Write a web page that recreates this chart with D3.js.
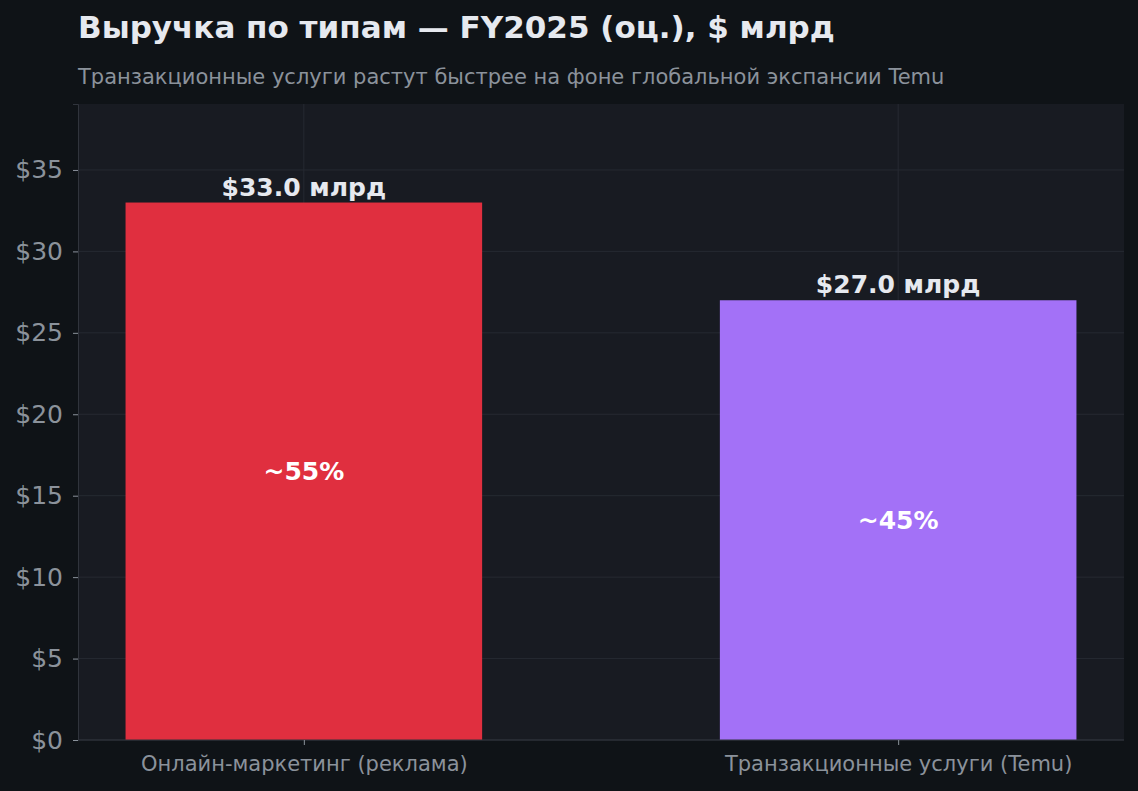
<!DOCTYPE html>
<html>
<head>
<meta charset="utf-8">
<script src="https://cdn.jsdelivr.net/npm/d3@7"></script>
<style>
  body { margin: 0; background: #0f1317; }
  text { font-family: "DejaVu Sans", sans-serif; }
</style>
</head>
<body>
<svg id="chart" width="1138" height="791"></svg>
<script>
var categories = ["Онлайн-маркетинг (реклама)", "Транзакционные услуги (Temu)"];
var revenue = [33.0, 27.0];
var shares = ["~55%", "~45%"];
var barColors = ["#e02f3f", "#a371f7"];
var yTicks = [0, 5, 10, 15, 20, 25, 30, 35];

var svg = d3.select("#chart");
var margin = { left: 78, right: 14, top: 104, bottom: 51 };
var W = 1138, H = 791;

svg.append("rect").attr("width", W).attr("height", H).attr("fill", "#0f1317");

var x = d3.scaleLinear().domain([-0.38, 1.38]).range([margin.left, W - margin.right]);
var y = d3.scaleLinear().domain([0, 39.05]).range([H - margin.bottom, margin.top]);

svg.append("rect")
    .attr("x", margin.left)
    .attr("y", margin.top)
    .attr("width", W - margin.right - margin.left)
    .attr("height", H - margin.bottom - margin.top)
    .attr("fill", "#181b22");

// grid
svg.append("g").selectAll("line")
    .data(yTicks)
    .enter().append("line")
    .attr("x1", margin.left).attr("x2", W - margin.right)
    .attr("y1", d => y(d)).attr("y2", d => y(d))
    .attr("stroke", "#262a32").attr("stroke-width", 1);

svg.append("g").selectAll("line")
    .data(categories)
    .enter().append("line")
    .attr("x1", (d, i) => x(i)).attr("x2", (d, i) => x(i))
    .attr("y1", margin.top).attr("y2", H - margin.bottom)
    .attr("stroke", "#262a32").attr("stroke-width", 1);

// bars
var bw = x(0.6) - x(0);
svg.append("g").selectAll("rect")
    .data(revenue)
    .enter().append("rect")
    .attr("x", (d, i) => x(i) - bw / 2)
    .attr("y", d => y(d))
    .attr("width", bw)
    .attr("height", d => y(0) - y(d))
    .attr("fill", (d, i) => barColors[i]);

// axes
var yAxis = d3.axisLeft(y).tickValues(yTicks).tickFormat(d => "$" + d).tickSize(5).tickPadding(10);
var gy = svg.append("g").attr("transform", "translate(" + margin.left + ",0)").call(yAxis);
gy.select(".domain").attr("stroke", "#30343c");
gy.selectAll(".tick line").attr("stroke", "#8b929b");
gy.selectAll(".tick text").attr("fill", "#8b929b").attr("font-size", 25)
    .style("font-family", "DejaVu Sans");

var xAxis = d3.axisBottom(x).tickValues([0, 1]).tickFormat((d, i) => categories[i]).tickSize(5).tickPadding(11);
var gx = svg.append("g").attr("transform", "translate(0," + (H - margin.bottom) + ")").call(xAxis);
gx.select(".domain").attr("stroke", "#30343c").attr("d", "M" + margin.left + ",0H" + (W - margin.right));
gx.selectAll(".tick line").attr("stroke", "#8b929b");
gx.selectAll(".tick text").attr("fill", "#8b929b").attr("font-size", 21)
    .style("font-family", "DejaVu Sans");

// value labels
svg.append("g").selectAll("text")
    .data(revenue)
    .enter().append("text")
    .attr("x", (d, i) => x(i))
    .attr("y", d => y(d) - 7)
    .attr("text-anchor", "middle")
    .attr("font-size", 25)
    .attr("font-weight", "bold")
    .attr("fill", "#e6e9ef")
    .text(d => "$" + d.toFixed(1) + " млрд");

svg.append("g").selectAll("text")
    .data(revenue)
    .enter().append("text")
    .attr("x", (d, i) => x(i))
    .attr("y", d => y(d / 2))
    .attr("dy", "0.35em")
    .attr("text-anchor", "middle")
    .attr("font-size", 25)
    .attr("font-weight", "bold")
    .attr("fill", "#ffffff")
    .text((d, i) => shares[i]);

// titles
svg.append("text")
    .attr("x", margin.left).attr("y", 38)
    .attr("font-size", 31).attr("font-weight", "bold")
    .attr("fill", "#e6e9ef")
    .text("Выручка по типам — FY2025 (оц.), $ млрд");

svg.append("text")
    .attr("x", margin.left).attr("y", 84)
    .attr("font-size", 21)
    .attr("fill", "#8b929b")
    .text("Транзакционные услуги растут быстрее на фоне глобальной экспансии Temu");
</script>
</body>
</html>
